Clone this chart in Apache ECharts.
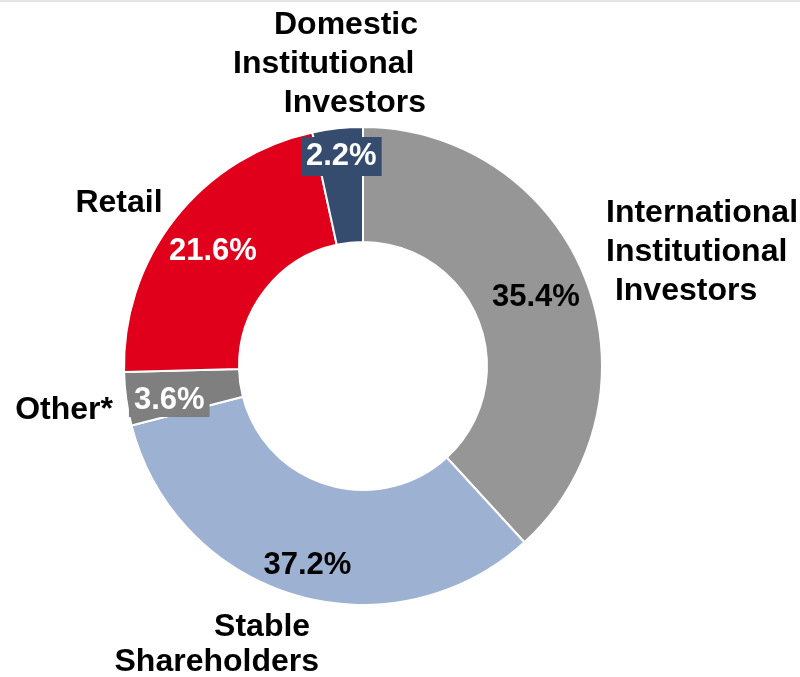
<!DOCTYPE html>
<html>
<head>
<meta charset="utf-8">
<script src="https://cdn.jsdelivr.net/npm/echarts@6/dist/echarts.min.js"></script>
<style>
    html, body { margin: 0; padding: 0; background: #fff; }
    #chart { width: 800px; height: 677px; }
</style>
</head>
<body>
<div id="chart"></div>
<script>
// Shareholder composition (clockwise from 12 o'clock)
const categories = ['International Institutional Investors', 'Stable Shareholders', 'Other*', 'Retail', 'Domestic Institutional Investors'];
// slice sizes as drawn in the picture
const shares = [38.2, 32.8, 3.6, 22.0, 3.4];
// percentages printed on the slices
const percentLabels = ['35.4%', '37.2%', '3.6%', '21.6%', '2.2%'];
// category names as printed (line breaks / spacing as in the picture)
const nameLabels = ['International\nInstitutional\n Investors', 'Stable \nShareholders', 'Other*', 'Retail', 'Domestic\nInstitutional     \n  Investors'];
const colors = ['#969696', '#9db2d2', '#7f7f7f', '#e0001b', '#364c6e'];

const FONT = '"Liberation Sans", Arial, sans-serif';

// per-slice styling of the percentage labels
const pctStyle = [
    { color: '#000', dx: 1, dy: -2 },
    { color: '#000', dx: -3, dy: 23 },
    { color: '#fff', dx: -11, dy: 9, backgroundColor: '#7f7f7f', padding: [1, 5] },
    { color: '#fff', dx: -5, dy: -1 },
    { color: '#fff', dx: -2, dy: -26, backgroundColor: '#364c6e', padding: [4, 5] }
];

// where the category names sit
const namePos = [
    { x: 606, y: 252, align: 'left', lineHeight: 39 },
    { x: 319, y: 645, align: 'right', lineHeight: 35 },
    { x: 113, y: 410, align: 'right', lineHeight: 39 },
    { x: 119, y: 203, align: 'center', lineHeight: 39 },
    { x: 346, y: 64, align: 'center', lineHeight: 39 }
];

const chart = echarts.init(document.getElementById('chart'));

const pctData = categories.map((name, i) => ({
    name: name,
    value: shares[i],
    itemStyle: { color: colors[i] },
    label: {
        formatter: percentLabels[i],
        color: pctStyle[i].color,
        backgroundColor: pctStyle[i].backgroundColor || 'transparent',
        padding: pctStyle[i].padding || 0
    }
}));

const nameData = categories.map((name, i) => ({
    name: name,
    value: shares[i],
    label: {
        formatter: nameLabels[i],
        lineHeight: namePos[i].lineHeight
    }
}));

chart.setOption({
    animation: false,
    backgroundColor: '#fff',
    graphic: [{
        type: 'rect',
        shape: { x: 0, y: 0, width: 800, height: 2 },
        style: { fill: '#e3e3e3' },
        silent: true
    }],
    series: [
        {
            type: 'pie',
            center: [363, 366],
            radius: [124, 239],
            startAngle: 90,
            clockwise: true,
            avoidLabelOverlap: false,
            silent: true,
            itemStyle: { borderColor: '#fff', borderWidth: 2 },
            label: {
                show: true,
                position: 'inside',
                fontFamily: FONT,
                fontSize: 31,
                lineHeight: 31,
                fontWeight: 'bold'
            },
            labelLine: { show: false },
            labelLayout: function (params) {
                const s = pctStyle[params.dataIndex];
                return { dx: s.dx, dy: s.dy };
            },
            data: pctData
        },
        {
            type: 'pie',
            center: [363, 366],
            radius: [124, 239],
            startAngle: 90,
            clockwise: true,
            avoidLabelOverlap: false,
            silent: true,
            itemStyle: { color: 'rgba(0,0,0,0)', borderWidth: 0 },
            label: {
                show: true,
                position: 'outside',
                fontFamily: FONT,
                fontSize: 32,
                fontWeight: 'bold',
                color: '#000'
            },
            labelLine: { show: false },
            labelLayout: function (params) {
                const p = namePos[params.dataIndex];
                return { x: p.x, y: p.y, align: p.align, verticalAlign: 'middle' };
            },
            data: nameData
        }
    ]
});
</script>
</body>
</html>
